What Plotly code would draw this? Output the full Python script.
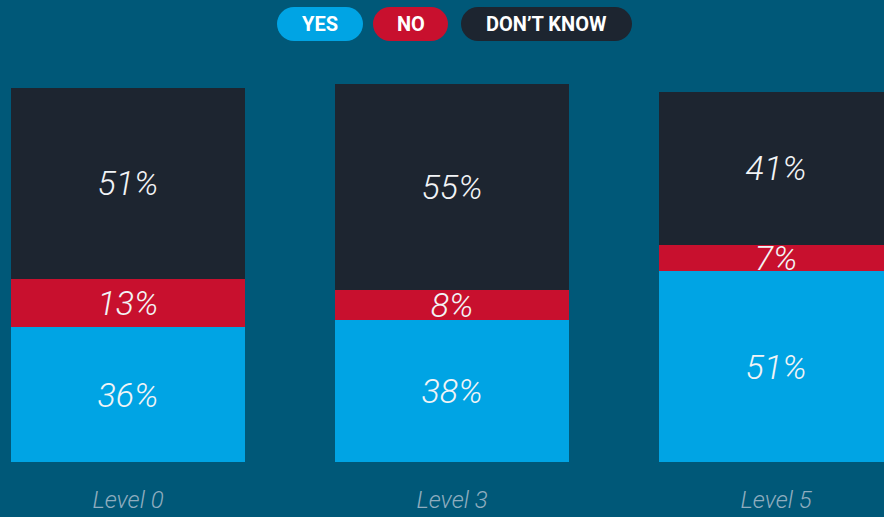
import plotly.graph_objects as go

# survey answers per level, in percent
levels = ['Level 0', 'Level 3', 'Level 5']
yes_pct = [36, 38, 51]
no_pct = [13, 8, 7]
dont_know_pct = [51, 55, 41]

series_names = ['YES', 'NO', 'DON’T KNOW']
series_colors = ['#00a4e4', '#c8102e', '#1d2530']
bg_color = '#005878'

W, H = 884, 517
M_TOP, M_BOT = 60, 55
plot_h = H - M_TOP - M_BOT

fig = go.Figure()
for name, vals, color in zip(series_names, [yes_pct, no_pct, dont_know_pct], series_colors):
    fig.add_trace(go.Bar(
        x=levels,
        y=vals,
        name=name,
        marker=dict(color=color, line=dict(width=0)),
        text=[f'{v}%' for v in vals],
        textposition='inside',
        insidetextanchor='middle',
        constraintext='none',
        textangle=0,
        textfont=dict(family='Roboto', size=34, color='#f2f4f6', style='italic', weight=300),
        hoverinfo='skip',
    ))


def px_to_paper_y(py):
    return (H - M_BOT - py) / plot_h


# pill shaped legend at the top
pills = [('YES', 277, 363, series_colors[0]),
         ('NO', 373, 448, series_colors[1]),
         ('DON’T KNOW', 461, 632, series_colors[2])]
pill_top, pill_bot = 7, 41
r = (pill_bot - pill_top) / 2
shapes = []
annotations = []
for label, x0, x1, color in pills:
    y0p = px_to_paper_y(pill_bot)
    y1p = px_to_paper_y(pill_top)
    shapes.append(dict(type='rect', xref='paper', yref='paper',
                       x0=(x0 + r) / W, x1=(x1 - r) / W, y0=y0p, y1=y1p,
                       fillcolor=color, line=dict(width=0)))
    for cx in (x0 + r, x1 - r):
        shapes.append(dict(type='circle', xref='paper', yref='paper',
                           x0=(cx - r) / W, x1=(cx + r) / W, y0=y0p, y1=y1p,
                           fillcolor=color, line=dict(width=0)))
    annotations.append(dict(text=label, xref='paper', yref='paper',
                            x=(x0 + x1) / 2 / W, y=(y0p + y1p) / 2,
                            xanchor='center', yanchor='middle', showarrow=False,
                            font=dict(family='Roboto', size=20, color='white', weight='bold')))

fig.update_layout(
    width=W, height=H,
    barmode='stack',
    bargap=0.278,
    paper_bgcolor=bg_color,
    plot_bgcolor=bg_color,
    showlegend=False,
    margin=dict(l=0, r=0, t=M_TOP, b=M_BOT),
    shapes=shapes,
    annotations=annotations,
    xaxis=dict(
        range=[-0.395, 2.333],
        showgrid=False, zeroline=False, showline=False,
        ticks='outside', ticklen=16, tickcolor=bg_color,
        tickfont=dict(family='Roboto', size=24, color='#8fadbf', style='italic', weight=300),
        fixedrange=True,
    ),
    yaxis=dict(
        range=[0, plot_h / 3.74],
        visible=False,
        fixedrange=True,
    ),
)

# drop the default page margin so the figure fills the window
fig.write_html("out.html", config={'displayModeBar': False},
               post_script="document.body.style.margin='0';")
